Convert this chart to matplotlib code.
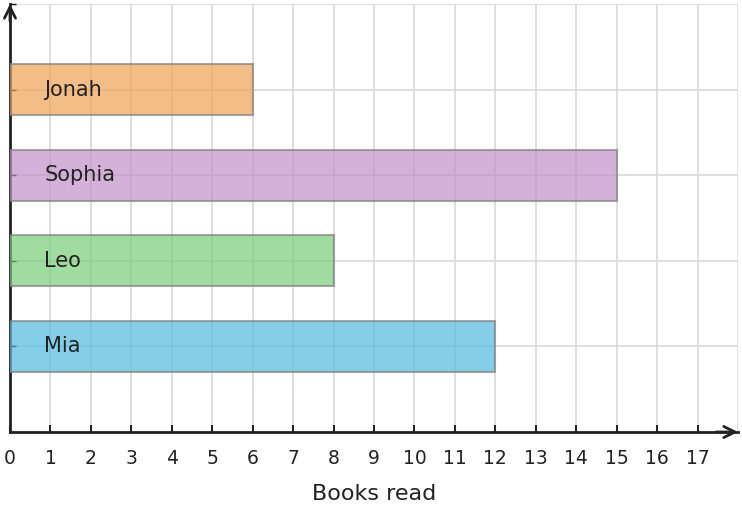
import matplotlib.pyplot as plt

# données
names = ['Mia', 'Leo', 'Sophia', 'Jonah']
books = [12, 8, 15, 6]
colors = ['#51BADE', '#78CC77', '#C390CA', '#EEA254']

fig = plt.figure(figsize=(7.42, 5.08), dpi=100)
ax = fig.add_axes([10 / 742, 1 - 432 / 508, 728 / 742, 428 / 508])

pos = list(range(len(names)))
ax.barh(pos, books, height=0.6, color=colors, alpha=0.7,
        edgecolor='#808080', linewidth=1.5, zorder=3)

for p, n in zip(pos, names):
    ax.text(0.85, p, n, va='center', ha='left', fontsize=15, color='#222222', zorder=4)

ax.set_xlim(0, 18)
ax.set_ylim(-1, 4)
ax.set_xticks(range(0, 18))
ax.set_xticks([18], minor=True)
ax.set_yticks(range(0, 5))
ax.set_yticklabels([])
ax.grid(True, color='#d9d9d9', linewidth=1.2, zorder=0)
ax.grid(True, which='minor', axis='x', color='#d9d9d9', linewidth=1.2, zorder=0)
ax.tick_params(axis='x', direction='in', length=5, width=1.5, color='#222222',
               labelsize=13.5, labelcolor='#222222', pad=12)
ax.tick_params(axis='x', which='minor', length=0)
ax.tick_params(axis='y', direction='in', length=4, width=1)
# petites graduations de la couleur des barres
for t, c in zip(ax.yaxis.get_major_ticks(), colors + ['#d9d9d9']):
    t.tick1line.set_color(c)

ax.spines['top'].set_visible(False)
ax.spines['right'].set_visible(False)
for s in ['left', 'bottom']:
    ax.spines[s].set_linewidth(2)
    ax.spines[s].set_color('#222222')

# flèches des axes
ax.annotate('', xy=(1.0, 0), xytext=(0.97, 0), xycoords='axes fraction',
            arrowprops=dict(arrowstyle='->', color='#222222', lw=2, mutation_scale=20,
                            shrinkA=0, shrinkB=0),
            annotation_clip=False)
ax.annotate('', xy=(0, 1.0), xytext=(0, 0.96), xycoords='axes fraction',
            arrowprops=dict(arrowstyle='->', color='#222222', lw=2, mutation_scale=20,
                            shrinkA=0, shrinkB=0),
            annotation_clip=False)

ax.set_xlabel('Books read', fontsize=16, color='#222222', labelpad=12)

fig.savefig('out.png', dpi=100)
